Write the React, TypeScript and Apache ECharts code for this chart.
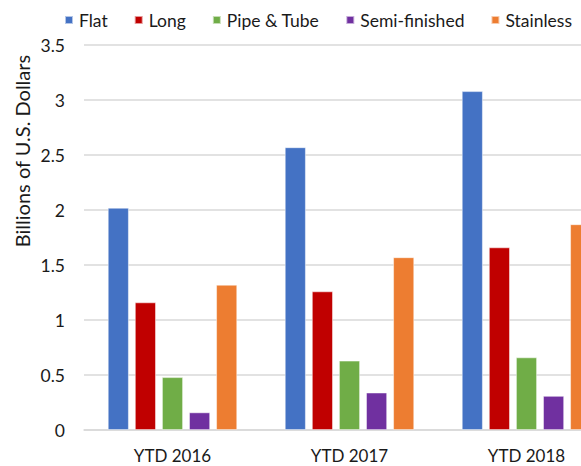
import React, { useEffect, useRef } from "react";
import * as echarts from "echarts";

const categories = ["YTD 2016", "YTD 2017", "YTD 2018"];
const seriesNames = ["Flat", "Long", "Pipe & Tube", "Semi-finished", "Stainless"];
const flat = [2.02, 2.57, 3.08];
const long = [1.16, 1.26, 1.66];
const pipeTube = [0.48, 0.63, 0.66];
const semiFinished = [0.16, 0.34, 0.31];
const stainless = [1.32, 1.57, 1.87];
const colors = ["#4472C4", "#C00000", "#70AD47", "#7030A0", "#ED7D31"];
const yTicks = { min: 0, max: 3.5, interval: 0.5 };

const FONT = "Lato";

export default function App() {
  const ref = useRef<HTMLDivElement>(null);
  useEffect(() => {
    if (!ref.current) return;
    const chart = echarts.init(ref.current, undefined, { renderer: "svg" });
    const values = [flat, long, pipeTube, semiFinished, stainless];
    chart.setOption({
      animation: false,
      textStyle: { fontFamily: FONT },
      legend: {
        data: seriesNames,
        top: 6,
        left: 59,
        icon: "rect",
        itemWidth: 8,
        itemHeight: 8,
        itemGap: 26,
        textStyle: { fontFamily: FONT, fontSize: 17.5, color: "#1a1a1a", padding: [0, 0, 0, 1] },
      },
      grid: {
        left: 84,
        top: 45,
        width: 531,
        height: 385,
        containLabel: false,
        outerBoundsMode: "none",
      },
      xAxis: {
        type: "category",
        data: categories,
        axisLine: { lineStyle: { color: "#d9d9d9", width: 1.5 } },
        axisTick: { show: false },
        axisLabel: { margin: 17, fontFamily: FONT, fontSize: 17, color: "#1a1a1a" },
      },
      yAxis: {
        type: "value",
        min: yTicks.min,
        max: yTicks.max,
        interval: yTicks.interval,
        axisLine: { show: false },
        axisTick: { show: false },
        splitLine: { lineStyle: { color: "#d9d9d9", width: 1.5 } },
        axisLabel: { margin: 19, fontFamily: FONT, fontSize: 17.5, color: "#1a1a1a" },
      },
      graphic: [
        {
          type: "text",
          x: 22,
          y: 151,
          rotation: Math.PI / 2,
          style: {
            text: "Billions of U.S. Dollars",
            fontFamily: FONT,
            fontSize: 20,
            fill: "#1a1a1a",
            textAlign: "center",
            textVerticalAlign: "middle",
          },
        },
      ],
      series: seriesNames.map((name, i) => ({
        name,
        type: "bar",
        data: values[i],
        barWidth: 21,
        barGap: "29%",
        itemStyle: {
          color: colors[i],
          borderColor: "rgba(255,255,255,0.6)",
          borderWidth: 0.8,
        },
      })),
    });
    return () => chart.dispose();
  }, []);
  return (
    <div
      ref={ref}
      style={{ position: "fixed", left: 0, top: 0, width: 581, height: 466, background: "#fff" }}
    />
  );
}
